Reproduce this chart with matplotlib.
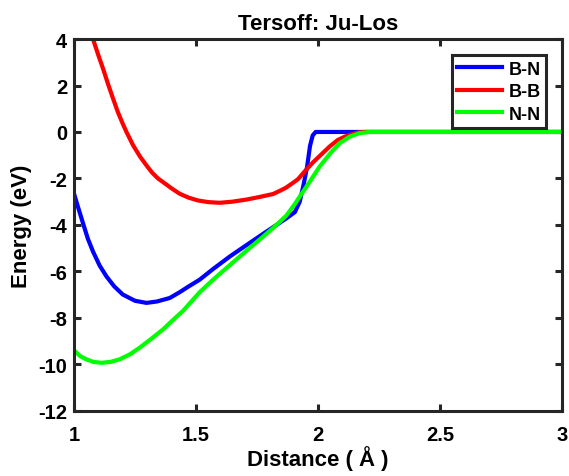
import matplotlib
matplotlib.use("Agg")
import matplotlib.pyplot as plt

plt.rcParams['font.family'] = ['Liberation Sans', 'DejaVu Sans']
plt.rcParams['font.weight'] = 'bold'
plt.rcParams['axes.unicode_minus'] = False

# values
bn_x = [1.000, 1.020, 1.037, 1.057, 1.078, 1.105, 1.133, 1.165, 1.200, 1.250, 1.297, 1.340,
        1.392, 1.433, 1.470, 1.515, 1.570, 1.640, 1.707, 1.770, 1.830, 1.870, 1.905, 1.925,
        1.940, 1.955, 1.967, 1.978, 1.990, 2.100, 2.500, 3.000]
bn_y = [-2.65, -3.35, -3.93, -4.60, -5.15, -5.75, -6.22, -6.65, -7.00, -7.27, -7.36, -7.30,
        -7.15, -6.90, -6.65, -6.36, -5.90, -5.35, -4.87, -4.42, -4.00, -3.72, -3.45, -3.00,
        -2.30, -1.50, -0.60, -0.15, 0.00, 0.00, 0.00, 0.00]

bb_x = [1.078, 1.100, 1.119, 1.140, 1.160, 1.180, 1.200, 1.215, 1.242, 1.270, 1.297, 1.320,
        1.344, 1.365, 1.400, 1.433, 1.470, 1.508, 1.550, 1.597, 1.650, 1.707, 1.760, 1.816,
        1.850, 1.870, 1.900, 1.918, 1.945, 1.980, 2.010, 2.047, 2.080, 2.110, 2.129, 2.160,
        2.190, 2.500, 3.000]
bb_y = [4.00, 3.30, 2.73, 2.05, 1.44, 0.85, 0.35, 0.00, -0.57, -1.05, -1.44, -1.75,
        -2.00, -2.16, -2.43, -2.66, -2.83, -2.95, -3.02, -3.05, -3.00, -2.91, -2.80, -2.67,
        -2.50, -2.39, -2.17, -2.03, -1.70, -1.30, -1.00, -0.63, -0.35, -0.20, -0.13, -0.03,
        0.00, 0.00, 0.00]

nn_x = [1.000, 1.025, 1.050, 1.080, 1.112, 1.150, 1.187, 1.230, 1.269, 1.315, 1.365, 1.400,
        1.447, 1.515, 1.570, 1.640, 1.707, 1.770, 1.830, 1.870, 1.905, 1.930, 1.959, 2.007,
        2.050, 2.089, 2.130, 2.170, 2.210, 2.500, 3.000]
nn_y = [-9.40, -9.65, -9.79, -9.90, -9.94, -9.90, -9.79, -9.57, -9.29, -8.92, -8.50, -8.15,
        -7.70, -6.90, -6.36, -5.72, -5.11, -4.55, -4.00, -3.60, -3.10, -2.70, -2.25, -1.48,
        -0.92, -0.48, -0.20, -0.05, 0.00, 0.00, 0.00]

series = [("B-N", bn_x, bn_y, (0, 0, 1)),
          ("B-B", bb_x, bb_y, (1, 0, 0)),
          ("N-N", nn_x, nn_y, (0, 1, 0))]

dark = (0.15, 0.15, 0.15)

fig = plt.figure(figsize=(5.69, 4.77), dpi=100)
ax = fig.add_axes([0.130, 0.137, 0.858, 0.779])

for name, xs, ys, c in series:
    ax.plot(xs, ys, color=c, linewidth=3, label=name, solid_joinstyle='round')

ax.set_xlim(1, 3)
ax.set_ylim(-12, 4)
ax.set_xticks([1, 1.5, 2, 2.5, 3])
ax.set_xticklabels(["1", "1.5", "2", "2.5", "3"])
ax.set_yticks(range(-12, 5, 2))

for s in ax.spines.values():
    s.set_linewidth(2.2)
    s.set_color(dark)
ax.tick_params(direction='in', width=2.2, length=5, color=dark,
               labelsize=14.5, top=True, right=True, pad=5)
ax.tick_params(axis='x', pad=10)

ax.set_title("Tersoff: Ju-Los", fontsize=16, fontweight='bold', pad=7)
ax.set_xlabel("Distance ( Å )", fontsize=16, fontweight='bold', labelpad=1)
ax.set_ylabel("Energy (eV)", fontsize=16, fontweight='bold', labelpad=4)

leg = ax.legend(loc='upper right', fontsize=13, frameon=True, fancybox=False,
                handlelength=2.5, handletextpad=0.35, borderpad=0.3, labelspacing=0.3,
                borderaxespad=0.9)
leg.get_frame().set_edgecolor(dark)
leg.get_frame().set_linewidth(2.2)
leg.get_frame().set_alpha(1)
for t in leg.get_texts():
    t.set_fontweight('bold')

fig.savefig("out.png", dpi=100)
